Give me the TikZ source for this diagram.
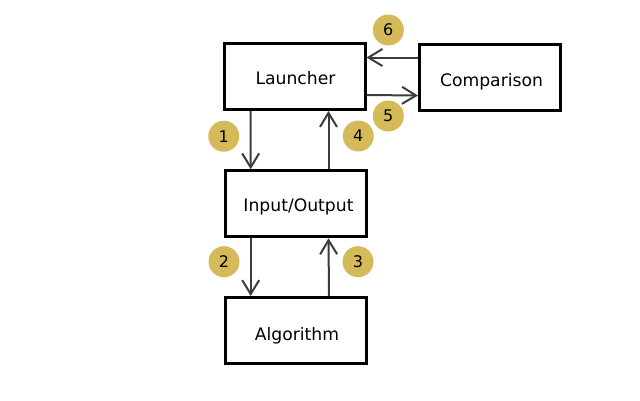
\documentclass[tikz,border=0pt]{standalone}
\usepackage{fontspec}
\setmainfont{DejaVu Sans}
\usetikzlibrary{arrows.meta,calc}
\definecolor{badge}{RGB}{212,186,88}
\definecolor{conn}{RGB}{60,60,60}
\tikzset{
  box/.style={draw=black,line width=3pt,fill=white,minimum width=141pt,minimum height=66pt,inner sep=0pt,text height=12.5pt,text depth=0pt,font=\fontsize{17.2}{20}\selectfont},
  badgenode/.style={circle,fill=badge,minimum size=31pt,inner sep=0pt,font=\fontsize{16}{20}\selectfont},
  conn/.style={draw=conn,line width=2pt,-{Straight Barb[length=14pt,width=17pt,line width=2pt]}}
}
\begin{document}
\begin{tikzpicture}[x=1pt,y=-1pt]
\useasboundingbox (0,0) rectangle (640,400);
\node[box] (L) at (294.5,76.5) {\raisebox{-1.5pt}{\hspace{2pt}Launcher}};
\node[box] (C) at (490,77) {\raisebox{-3pt}{\hspace{3pt}Comparison}};
\node[box] (IO) at (295.5,203.8) {\raisebox{-1.5pt}{\hspace{6pt}Input/Output}};
\node[box] (A) at (295.5,330.5) {\raisebox{-4pt}{\hspace{3pt}Algorithm}};
\draw[conn] ($(L.south)+(-44,0)$) -- ($(IO.north)+(-44.8,0)$);
\draw[conn] ($(IO.north)+(33,0)$) -- ($(L.south)+(34,0)$);
\draw[conn] ($(IO.south)+(-44.8,0)$) -- ($(A.north)+(-44.8,0)$);
\draw[conn] ($(A.north)+(33.5,0)$) -- ($(IO.south)+(33,0)$);
\draw[conn] ($(C.west)+(0,-19.5)$) -- ($(L.east)+(0,-19)$);
\draw[conn] ($(L.east)+(0,18.5)$) -- ($(C.west)+(0,18.5)$);
\node[badgenode] (b1) at (223.8,136.2) {1};
\node[badgenode] (b2) at (224,261.7) {2};
\node[badgenode] (b3) at (358,261.7) {3};
\node[badgenode] (b4) at (358.3,136) {4};
\node[badgenode] (b5) at (388.3,116) {5};
\node[badgenode] (b6) at (388.3,30) {6};
\end{tikzpicture}
\end{document}
